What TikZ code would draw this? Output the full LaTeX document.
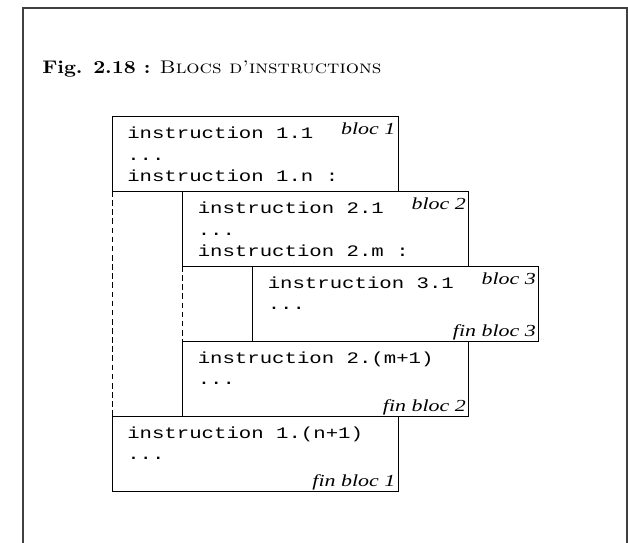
\documentclass[tikz,border=0pt]{standalone}
\usepackage{fontspec}
\newfontfamily\codefont{Liberation Mono}[FakeStretch=1.29]
\newfontfamily\blocfont{Liberation Serif}[FakeStretch=1.3]
\newfontfamily\titlefont{lmroman10-regular.otf}[FakeStretch=1.14,
  BoldFont=lmroman10-bold.otf, SmallCapsFont=lmromancaps10-regular.otf]

\begin{document}
\begin{tikzpicture}[
  bloc/.style={draw, line width=0.6pt, minimum width=7.15cm, minimum height=1.875cm,
    inner sep=0pt, outer sep=0pt, anchor=north west},
  code/.style={anchor=base west, inner sep=0pt, align=left,
    font=\codefont\fontsize{11.4}{15.6}\selectfont},
  blocname/.style={anchor=base east, inner sep=0pt,
    font=\blocfont\itshape\fontsize{12}{14}\selectfont},
  link/.style={dash pattern=on 4pt off 2.5pt, line width=0.6pt},
  frame/.style={line width=0.8pt, black!75}
  ]
  \useasboundingbox (0,0) rectangle (15.7,13.575);
  \draw[frame] (0.575,0) -- (0.575,13.375) -- (15.675,13.375) -- (15.675,0);
  \node[anchor=base west, inner sep=0pt, font=\titlefont\fontsize{13}{15}\selectfont]
    (titre) at (1.05,11.725) {\textbf{Fig. 2.18 :} \textsc{Blocs d’instructions}};

  % les blocs emboites
  \node[bloc] (b1)  at (2.8,10.675) {};
  \node[bloc] (b2)  at (4.5625,8.8) {};
  \node[bloc] (b3)  at (6.3125,6.925) {};
  \node[bloc] (b2f) at (4.5625,5.05) {};
  \node[bloc] (b1f) at (2.8,3.175) {};

  % base = derniere ligne du texte
  \node[code] (i1)  at ([shift={(0.375,-1.65)}]b1.north west)  {instruction 1.1\\...\\instruction 1.n :};
  \node[code] (i2)  at ([shift={(0.375,-1.65)}]b2.north west)  {instruction 2.1\\...\\instruction 2.m :};
  \node[code] (i3)  at ([shift={(0.375,-1.1)}]b3.north west)   {instruction 3.1\\...};
  \node[code] (i2f) at ([shift={(0.375,-1.1)}]b2f.north west)  {instruction 2.(m+1)\\...};
  \node[code] (i1f) at ([shift={(0.375,-1.1)}]b1f.north west)  {instruction 1.(n+1)\\...};

  \node[blocname] (n1) at ([shift={(-0.06,-0.47)}]b1.north east) {bloc 1};
  \node[blocname] (n2) at ([shift={(-0.06,-0.47)}]b2.north east) {bloc 2};
  \node[blocname] (n3) at ([shift={(-0.06,-0.47)}]b3.north east) {bloc 3};
  \node[blocname] (f3) at ([shift={(-0.06,0.11)}]b3.south east)  {fin bloc 3};
  \node[blocname] (f2) at ([shift={(-0.06,0.11)}]b2f.south east) {fin bloc 2};
  \node[blocname] (f1) at ([shift={(-0.06,0.11)}]b1f.south east) {fin bloc 1};

  \draw[link] (b1.south west) -- (b1f.north west);
  \draw[link] (b2.south west) -- (b2f.north west);
\end{tikzpicture}
\end{document}
